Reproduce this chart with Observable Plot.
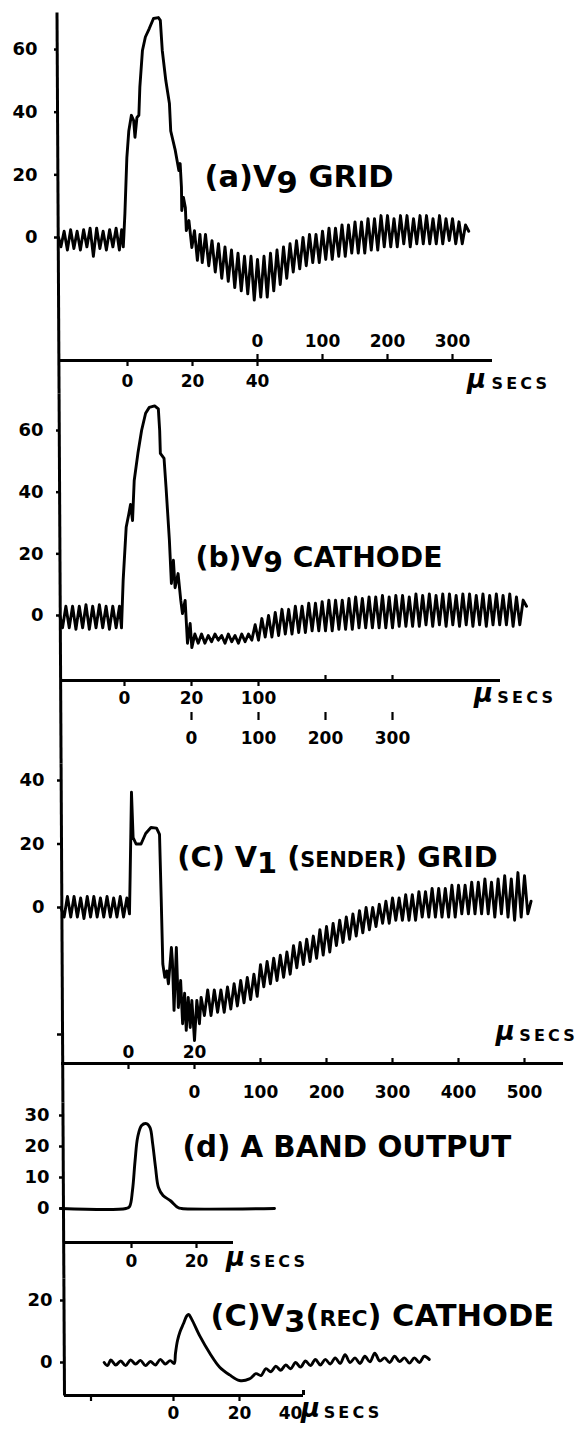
<!DOCTYPE html>
<html>
<head>
<meta charset="utf-8">
<script src="https://cdn.jsdelivr.net/npm/d3@7"></script>
<script src="https://cdn.jsdelivr.net/npm/@observablehq/plot@0.6"></script>
<style>
  html, body { margin: 0; padding: 0; background: #ffffff; }
  #chart { width: 580px; }
  #chart svg { display: block; overflow: visible; }
</style>
</head>
<body>
<div id="chart"></div>
<script>
// ---------------- DATA (time in µs on the fine scale, volts) ----------------
const titles = ["(a)V9 GRID", "(b)V9 CATHODE", "(C) V1 (SENDER) GRID", "(d) A BAND OUTPUT", "(C)V3(REC) CATHODE"];
const unitLabel = ["µ", "SECS"];

const yTicksA = [0, 20, 40, 60];
const yTicksB = [0, 20, 40, 60];
const yTicksC = [-40, 0, 20, 40];
const yTicksD = [0, 10, 20, 30];
const yTicksE = [0, 20];

const fineA = [0, 20, 40];
const coarseA = [0, 100, 200, 300];
const fineB = [0, 20];
const coarseB1 = [100];
const coarseB2 = [0, 100, 200, 300];
const fineC = [0, 20];
const coarseC = [0, 100, 200, 300, 400, 500];
const fineD = [0, 20];
const fineE = [0, 20];
const endE = [40];
const tickE = [-25, 0, 20];

const aTrace = [
[-21.2,0],[-20.5,-3],[-19.5,2],[-18.5,-4],[-17.5,2.5],[-16.5,-3.5],[-15.5,2],[-14.5,-4],[-13.5,2.5],[-12.5,-3],[-11.5,3],[-10.5,-6],[-9.5,3],[-8.5,-3.5],[-7.5,2],[-6.5,-4],[-5.5,2.5],[-4.5,-3],[-3.5,3],[-2.5,-4],[-1.8,2.5],[-1.3,-3],
[-1.1,1],[-0.8,7.6],[-0.2,25.5],[0.4,34],[1.2,39],[1.9,37.3],[2.3,32],[2.9,38.3],[3.5,39],[3.8,48],[4.6,59.7],[5.5,64],[6.7,66.7],[8,69.9],[9.5,70.2],[10.1,69.3],[10.7,59.7],[11.8,50],[12.9,42.8],[13.3,34],[14.7,27.8],[15.8,21.4],[16.2,23.6],[16.6,16],[16.7,8.6],[17.2,12.8],[17.8,9.6],[18.1,2.2],[18.9,5.4],[19.8,-3.2],[20.6,2.2],[21.5,-7.3],[22.3,1],
[23,-8],[24,1],[25,-9],[26,-1],[27,-11],[28,-2],[29,-13],[30,-3],[31,-14],[32,-4],[33,-16],[34,-5],[35,-17],[36,-6],[37,-18],[38,-6],[39,-20],[40,-7],[41,-19],[42,-6],[43,-19],[44,-5],[45,-17],[46,-4],[47,-15],[48,-3],[49,-13],[50,-2],[51,-11],[52,-1],[53,-10],[54,0],[55,-9],[56,1],[57,-8],[58,1],[59,-8],[60,2],[61,-7],[62,3],[63,-7],[64,3],[65,-6],[66,4],[67,-6],[68,4],[69,-5],[70,5],[71,-5],[72,5],[73,-5],[74,6],[75,-4],[76,6],[77,-4],[78,7],[79,-3],[80,7],[81,-3],[82,6],[83,-3],[84,7],[85,-2],[86,7],[87,-3],[88,6],[89,-2],[90,7],[91,-2],[92,7],[93,-2],[94,6],[95,-2],[96,7],[97,-2],[98,6],[99,-1],[100,6],[101,-2],[102,5],[103,-2],[104,4],[105,2]
];

const bTrace = [
[-19.3,0],[-18.5,-4],[-17.5,3],[-16.5,-4],[-15.5,3],[-14.5,-4.5],[-13.5,3],[-12.5,-4],[-11.5,3.5],[-10.5,-4.5],[-9.5,3],[-8.5,-4],[-7.5,3.5],[-6.5,-4],[-5.5,3],[-4.5,-4.5],[-3.5,3],[-2.5,-4],[-1.5,3],[-0.9,-4],
[-0.4,11.4],[0.5,28.6],[1.3,33],[1.8,36],[2.4,30.8],[2.9,43.8],[4.0,52.6],[5.1,60],[6.3,65.6],[7.4,67.5],[9.0,68],[10.1,67],[10.5,60],[10.7,52.6],[11.8,51],[12.4,41.6],[13.4,24.4],[14.0,10.4],[14.6,17.9],[15.1,9],[16.0,13.6],[16.8,4.9],[17.3,0.6],[18.1,4.9],[18.8,-9],[19.6,-2.6],[20.1,-10.4],
[21,-6],[22,-9],[23,-6],[24,-9],[25,-6.5],[26,-8.5],[27,-6],[28,-8],[29,-6.5],[30,-9],[31,-6],[32,-8.5],[33,-6.5],[34,-9],[35,-6],[36,-8.5],[37,-6],[38,-8],[39,-3],[40,-8],
[41,-1],[42,-7],[43,0],[44,-7],[45,1],[46,-6.5],[47,2],[48,-6],[49,2],[50,-6],[51,3],[52,-5.5],[53,3],[54,-5.5],[55,4],[56,-5],[57,4],[58,-5],[59,4.5],[60,-5],[61,5],[62,-5],[63,5],[64,-4.5],[65,5],[66,-4.5],[67,5.5],[68,-4.5],[69,6],[70,-4],[71,5.5],[72,-4],[73,6],[74,-4],[75,6],[76,-4],[77,6.5],[78,-4],[79,6],[80,-4],[81,6.5],[82,-3.5],[83,6.5],[84,-3.5],[85,6],[86,-3.5],[87,7],[88,-3.5],[89,6.5],[90,-3],[91,7],[92,-3.5],[93,6.5],[94,-3],[95,7],[96,-3.5],[97,7],[98,-3],[99,6.5],[100,-3.5],[101,7],[102,-3],[103,7],[104,-3.5],[105,6.5],[106,-3],[107,7],[108,-3.5],[109,6.5],[110,-3],[111,7],[112,-3],[113,6.5],[114,-3],[115,7],[116,-3.5],[117,6],[118,-3],[119,5],[120,3]
];

const cTrace = [
[-20.5,0],[-19.5,-3],[-18.5,3.5],[-17.5,-3],[-16.5,3.5],[-15.5,-3],[-14.5,3],[-13.5,-3.5],[-12.5,3.5],[-11.5,-3],[-10.5,3.5],[-9.5,-3],[-8.5,3],[-7.5,-3],[-6.5,3.5],[-5.5,-3],[-4.5,3],[-3.5,-3],[-2.5,3.5],[-1.5,-3],[-0.5,3],[0.3,-2],
[0.5,10],[0.9,36.3],[1.4,22],[2.3,20],[3.8,20],[5.2,23.3],[6.8,25.2],[8.5,25],[9.4,23],[9.9,3.2],[10.4,-17.8],[11.0,-22],[11.6,-20],[12.1,-24],[13.0,-12.6],[13.3,-16.7],[13.8,-32.4],[14.5,-12.6],[15.1,-31.5],[15.8,-23],[16.4,-36.6],[17.0,-27],[17.5,-38.7],[18.1,-28.3],[18.7,-37.8],[19.2,-29.3],[20,-41.9],[20.7,-29.3],[21.5,-36.6],[22.0,-28.3],
[23,-34],[24,-26],[25,-34],[26,-26],[27,-33],[28,-26],[29,-33],[30,-25],[31,-32],[32,-24],[33,-31],[34,-23],[35,-30],[36,-22],[37,-29],[38,-21],[39,-28],[40,-18],[41,-25],[42,-17],[43,-24],[44,-16],[45,-23],[46,-15],[47,-22],[48,-14],[49,-21],[50,-12],[51,-19],[52,-11],[53,-18],[54,-10],[55,-17],[56,-9],[57,-16],[58,-7],[59,-15],[60,-6],[61,-14],[62,-5],[63,-12],[64,-4],[65,-11],[66,-3],[67,-10],[68,-2],[69,-9],[70,-1],[71,-8],[72,0],[73,-7],[74,0],[75,-6],[76,1],[77,-5],[78,2],[79,-5],[80,3],[81,-4],[82,3],[83,-4],[84,4],[85,-4],[86,4],[87,-4],[88,5],[89,-3],[90,5],[91,-3],[92,6],[93,-3],[94,6],[95,-3],[96,6],[97,-3],[98,7],[99,-3],[100,7],[101,-2],[102,7],[103,-2],[104,8],[105,-2],[106,8],[107,-2],[108,9],[109,-2],[110,8],[111,-3],[112,9],[113,-2],[114,10],[115,-3],[116,9],[117,-4],[118,11],[119,-3],[120,10],[121,-2],[122,2]
];

const dTrace = [
[-21.8,0],[-1.7,0],[-0.6,0.6],[0.3,5.8],[1.1,15.4],[1.9,23],[3.1,26.8],[4.6,27.4],[5.7,26.1],[6.5,21],[7.4,13.2],[8.3,6.8],[9.7,4.2],[12,2.5],[14.3,0.3],[15.4,0],[44,0]
];

const eTrace = [
[-21,0],[-20,-1],[-19,0.8],[-17.5,-0.8],[-16,0.5],[-14.5,-1],[-13,0.8],[-11.5,-0.5],[-10,0.7],[-8.5,-1],[-7,0.3],[-5.5,-0.8],[-4,1],[-2.5,-0.5],[-1,0.6],[0.2,-0.3],
[0.6,3],[1.2,7],[2,10],[3,12.5],[4,15],[4.6,15.5],[5.5,14],[8,8.5],[11,3],[14,-1.5],[17,-4],[20,-5.8],[23,-5.3],[25,-3.6],
[26.5,-4.2],[28,-2],[29.5,-3],[31,-1.2],[32.5,-2.5],[34,-0.8],[35.5,-2],[37,0],[38.5,-1.5],[40,0.5],[41.5,-1],[43,1],[44.5,-0.8],[46,1],[47.5,-0.5],[49,1.5],[50.5,-0.3],[52,2.5],[53.5,0],[55,1.5],[56.5,-0.3],[58,2],[59.5,0.2],[61,3],[62.5,0.5],[64,1.5],[65.5,0],[67,2],[68.5,0.3],[70,1.5],[71.5,-0.2],[73,1.5],[74.5,0],[76,2],[77.5,1]
];

// ---------------- LAYOUT (pixel frame of each panel) ----------------
const FONT = "'DejaVu Sans', 'Liberation Sans', sans-serif";
const lineX = py => 56.5 + 7.5 * (py - 12) / 1383;   // hand-drawn left axis drifts slightly
const COARSE_RATIO = 5;                               // coarse µs per fine µs on the split time axes

const layout = {
  a: {top: 0, height: 393, left: 58, right: 492, frameTop: 12, axisY: 360, x0: 127, kx: 3.25, y0: 237, ky: 3.133, lineFrom: 12, lineTo: 393, yPad: 17, coarseOrigin: 40,
      title: titles[0], titleAt: [23.7, 19.2], titleSize: 30.5, unitAt: [107.4, 112], unitDy: 23},
  b: {top: 393, height: 370, left: 60, right: 500, frameTop: 400, axisY: 680, x0: 124, kx: 3.35, y0: 615, ky: 3.083, lineFrom: 393, lineTo: 763, yPad: 13, coarseOrigin: 20,
      title: titles[1], titleAt: [21.2, 18.8], titleSize: 28.2, unitAt: [107.2, 111.3], unitDy: 17},
  c: {top: 763, height: 339, left: 61, right: 563, frameTop: 770, axisY: 1063, x0: 128, kx: 3.3, y0: 907, ky: 3.175, lineFrom: 763, lineTo: 1102, yPad: 13, coarseOrigin: 20,
      title: titles[2], titleAt: [14.8, 15.7], titleSize: 28.8, unitAt: [114.2, 118.4], unitDy: -28},
  d: {top: 1102, height: 176, left: 63, right: 233, frameTop: 1106, axisY: 1242, x0: 131, kx: 3.25, y0: 1208, ky: 3.1, lineFrom: 1102, lineTo: 1278, yPad: 10, curve: "catmull-rom",
      title: titles[3], titleAt: [15.7, 19.7], titleSize: 29.3, unitAt: [32, 36.3], unitDy: 19},
  e: {top: 1278, height: 153, left: 64, right: 303, frameTop: 1290, axisY: 1395, x0: 173, kx: 3.3, y0: 1362, ky: 3.1, lineFrom: 1278, lineTo: 1395, yPad: 8, curve: "catmull-rom",
      title: titles[4], titleAt: [11.2, 14.8], titleSize: 30.5, unitAt: [41.5, 45.5], unitDy: 17}
};

function panel(cfg, trace, yTicks, extra) {
  const xv = px => (px - cfg.x0) / cfg.kx;
  const yv = py => (cfg.y0 - py) / cfg.ky;
  const xd = [xv(cfg.left), xv(cfg.right)];
  const yd = [yv(cfg.axisY), yv(cfg.frameTop)];
  const h = {
    base: yd[0], xd,
    down: n => yd[0] - n / cfg.ky,
    up: n => yd[0] + n / cfg.ky,
    coarse: v => cfg.coarseOrigin + v / COARSE_RATIO,
    labels: (vals, pos, dy, dx = 0) => Plot.text(vals, {x: pos, y: yd[0], text: d => String(d), dy, dx, fontSize: 17, fontWeight: "bold"})
  };
  const marks = [
    Plot.link([0], {x1: xv(lineX(cfg.lineFrom)), y1: yv(cfg.lineFrom), x2: xv(lineX(cfg.lineTo)), y2: yv(cfg.lineTo), strokeWidth: 3}),
    Plot.ruleY([yd[0]], {x1: xd[0], x2: xd[1], strokeWidth: 3}),
    Plot.axisY({ticks: yTicks, tickSize: 4, tickPadding: cfg.yPad, strokeWidth: 2.5, fontSize: 18, fontWeight: "bold",
                tickFormat: d => d < 0 ? "" : String(d), label: null}),
    Plot.line(trace, {x: d => d[0], y: d => d[1], strokeWidth: 2.9, strokeLinejoin: "round", strokeLinecap: "round", curve: cfg.curve || "linear"}),
    Plot.text([cfg.title], {x: cfg.titleAt[0], y: cfg.titleAt[1], text: d => d, textAnchor: "start", fontSize: cfg.titleSize, fontWeight: "bold"}),
    Plot.text([unitLabel[0]], {x: cfg.unitAt[0], y: yd[0], text: d => d, dy: cfg.unitDy - 4, fontSize: 26, fontWeight: "bold", fontStyle: "italic"}),
    Plot.text([unitLabel[1]], {x: cfg.unitAt[1], y: yd[0], text: d => d, dy: cfg.unitDy, textAnchor: "start", fontSize: 16, fontWeight: "bold"}),
    ...extra(h)
  ];
  const svg = Plot.plot({
    width: 580, height: cfg.height,
    marginLeft: cfg.left, marginRight: 580 - cfg.right,
    marginTop: cfg.frameTop - cfg.top, marginBottom: cfg.top + cfg.height - cfg.axisY,
    x: {domain: xd, axis: null},
    y: {domain: yd},
    style: {overflow: "visible", background: "transparent", color: "black", fontFamily: FONT},
    marks
  });
  enrich(svg);
  return svg;
}

// titles: lowered valve number and small capitals for words in brackets
function enrich(svg) {
  const ns = "http://www.w3.org/2000/svg";
  svg.querySelectorAll("text").forEach(t => {
    const s = t.textContent;
    if (s === unitLabel[1]) { t.setAttribute("letter-spacing", "3.2"); return; }
    if (!titles.includes(s)) return;
    const re = /V(\d)|\(([A-Z]{3,})\)/g;
    const parts = [];
    let last = 0, m;
    while ((m = re.exec(s))) {
      parts.push({s: s.slice(last, m.index)});
      if (m[1] !== undefined) { parts.push({s: "V"}); parts.push({s: m[1], lower: true}); }
      else { parts.push({s: "("}); parts.push({s: m[2], small: true}); parts.push({s: ")"}); }
      last = re.lastIndex;
    }
    parts.push({s: s.slice(last)});
    t.textContent = "";
    let shifted = false;
    for (const p of parts) {
      if (!p.s) continue;
      const sp = document.createElementNS(ns, "tspan");
      sp.textContent = p.s;
      if (p.lower) { sp.setAttribute("dy", "0.2em"); shifted = true; }
      else if (shifted) { sp.setAttribute("dy", "-0.2em"); shifted = false; }
      if (p.small) sp.setAttribute("font-size", "0.72em");
      t.appendChild(sp);
    }
  });
}

const chart = document.getElementById("chart");

chart.append(panel(layout.a, aTrace, yTicksA, h => [
  Plot.ruleX(fineA, {y1: h.base, y2: h.down(6), strokeWidth: 2.2}),
  Plot.ruleX(coarseA.map(h.coarse), {y1: h.base, y2: h.up(6), strokeWidth: 2.2}),
  h.labels(fineA, d => d, 21),
  h.labels(coarseA, h.coarse, -19)
]));

chart.append(panel(layout.b, bTrace, yTicksB, h => [
  Plot.ruleX(fineB.concat(coarseB1.map(h.coarse)), {y1: h.base, y2: h.down(6), strokeWidth: 2.2}),
  Plot.ruleX(coarseB2.slice(2).map(h.coarse), {y1: h.base, y2: h.up(5), strokeWidth: 2.2}),
  h.labels(fineB, d => d, 18),
  h.labels(coarseB1, h.coarse, 18),
  Plot.ruleX(coarseB2.map(h.coarse), {y1: h.down(32), y2: h.down(40), strokeWidth: 2.2}),
  h.labels(coarseB2, h.coarse, 58)
]));

chart.append(panel(layout.c, cTrace, yTicksC, h => [
  Plot.ruleX(fineC, {y1: h.base, y2: h.down(6), strokeWidth: 2.2}),
  Plot.ruleX(coarseC.slice(1).map(h.coarse), {y1: h.base, y2: h.up(5), strokeWidth: 2.2}),
  h.labels(fineC, d => d, -11),
  h.labels(coarseC, h.coarse, 29)
]));

chart.append(panel(layout.d, dTrace, yTicksD, h => [
  Plot.ruleX(fineD, {y1: h.base, y2: h.down(6), strokeWidth: 2.2}),
  h.labels(fineD, d => d, 19)
]));

chart.append(panel(layout.e, eTrace, yTicksE, h => [
  Plot.ruleX(tickE, {y1: h.base, y2: h.down(6), strokeWidth: 2.2}),
  Plot.ruleX([h.xd[1]], {y1: h.base, y2: h.up(5), strokeWidth: 3}),
  h.labels(fineE, d => d, 18),
  h.labels(endE, d => d, 18, -15)
]));
</script>
</body>
</html>
